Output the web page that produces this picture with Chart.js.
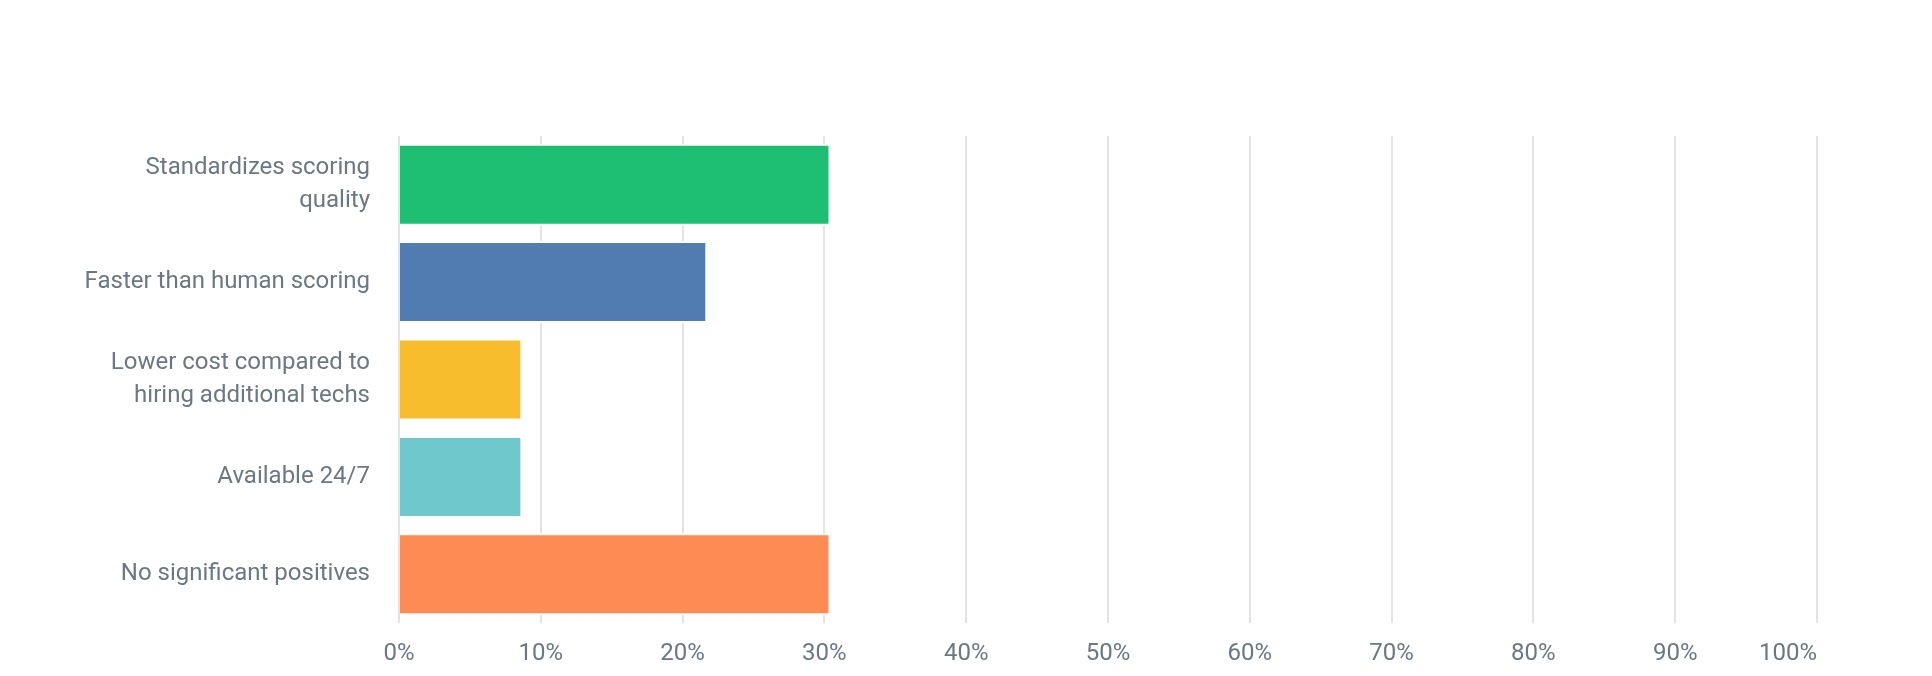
<!DOCTYPE html>
<html>
<head>
<meta charset="utf-8">
<script src="https://cdn.jsdelivr.net/npm/chart.js@4.4.0/dist/chart.umd.min.js"></script>
<style>
  html, body { margin: 0; padding: 0; background: #ffffff; }
  #wrap { width: 1932px; height: 676px; position: relative; }
</style>
</head>
<body>
<div id="wrap"><canvas id="c" width="1932" height="676"></canvas></div>
<script>
const categories = [
  ['Standardizes scoring', 'quality'],
  'Faster than human scoring',
  ['Lower cost compared to', 'hiring additional techs'],
  'Available 24/7',
  'No significant positives'
];
const values = [30.43, 21.74, 8.70, 8.70, 30.43];
const barColors = ['#1FBF73', '#507CB2', '#F7BD2C', '#6FC8CB', '#FF8B54'];
const tickValues = [0, 10, 20, 30, 40, 50, 60, 70, 80, 90, 100];
const tickLabels = ['0%', '10%', '20%', '30%', '40%', '50%', '60%', '70%', '80%', '90%', '100%'];

const lastTickRight = {
  id: 'lastTickRight',
  beforeDraw(chart) {
    const s = chart.scales.x;
    const items = s.getLabelItems();
    if (items.length) {
      items[items.length - 1].options.textAlign = 'right';
    }
  }
};

function zeroPad(scale) {
  scale.paddingTop = 0;
  scale.paddingBottom = 0;
  scale.paddingLeft = 0;
  scale.paddingRight = 0;
}

new Chart(document.getElementById('c'), {
  type: 'bar',
  data: {
    labels: categories,
    datasets: [{
      data: values,
      backgroundColor: barColors,
      borderColor: '#ffffff',
      borderWidth: 2,
      borderSkipped: 'start',
      barPercentage: 0.842,
      categoryPercentage: 1.0
    }]
  },
  options: {
    indexAxis: 'y',
    responsive: false,
    animation: false,
    events: [],
    layout: { padding: { left: 0, right: 115, top: 136, bottom: 0 } },
    plugins: { legend: { display: false }, tooltip: { enabled: false } },
    scales: {
      x: {
        type: 'linear',
        min: 0,
        max: 100,
        afterFit(scale) { scale.height = 53; zeroPad(scale); },
        afterBuildTicks(scale) { scale.ticks = tickValues.map(v => ({ value: v })); },
        grid: { color: '#e3e3e3', lineWidth: 2, drawTicks: false },
        border: { display: false },
        ticks: {
          padding: 17,
          color: '#6b7785',
          font: { family: 'Roboto', size: 24 },
          callback: (v) => tickLabels[tickValues.indexOf(v)]
        }
      },
      y: {
        afterFit(scale) { scale.width = 399; zeroPad(scale); },
        grid: { display: false },
        border: { display: false },
        ticks: {
          padding: 21,
          color: '#6b7785',
          font: { family: 'Roboto', size: 24, lineHeight: 1.36 }
        }
      }
    }
  },
  plugins: [lastTickRight]
});
</script>
</body>
</html>
